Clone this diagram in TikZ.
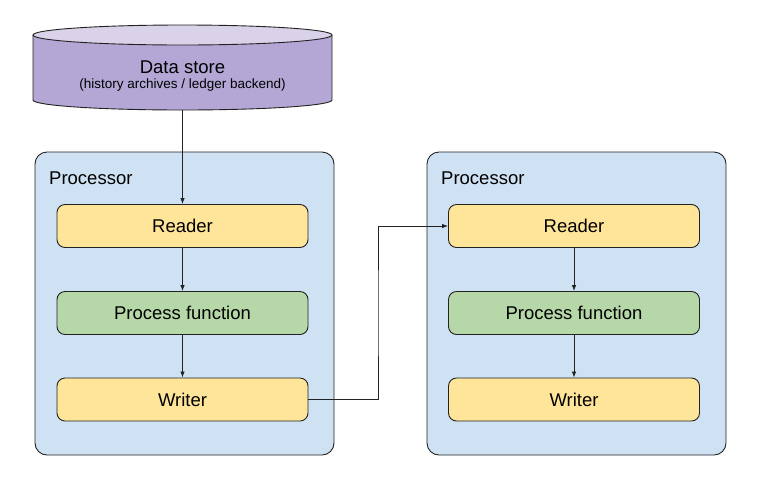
\documentclass[tikz,border=0pt]{standalone}
\usepackage{fontspec}
\setmainfont{Liberation Sans}
\usetikzlibrary{arrows.meta}
\definecolor{storetop}{HTML}{D9D2E9}
\definecolor{storebody}{HTML}{B4A7D6}
\definecolor{procfill}{HTML}{CFE2F3}
\definecolor{ioFill}{HTML}{FFE599}
\definecolor{funcfill}{HTML}{B6D7A8}
\definecolor{edge}{HTML}{222222}
\begin{document}
\begin{tikzpicture}[x=1pt,y=-1pt,
  procbox/.style={draw=edge,line width=0.9pt,fill=procfill,rounded corners=12pt},
  stagebox/.style={draw=edge,line width=0.9pt,rounded corners=8pt,minimum width=251pt,minimum height=43pt,inner sep=0pt,font=\fontsize{18.5}{22}\selectfont},
  link/.style={draw=edge,line width=0.8pt,-{Latex[length=6pt,width=4.5pt]}}]
\useasboundingbox (0,0) rectangle (759,480);
\fill[storebody] (33,35) -- (33,100) arc[start angle=180,end angle=0,x radius=149.5,y radius=10] -- (332,35) -- cycle;
\draw[edge,line width=0.9pt] (33,35) -- (33,100) arc[start angle=180,end angle=0,x radius=149.5,y radius=10] -- (332,35);
\draw[edge,line width=0.9pt,fill=storetop] (182.5,35) ellipse[x radius=149.5,y radius=10];
\coordinate (storeout) at (182.5,110);
\node (store) at (182.5,67) {\fontsize{18.5}{22}\selectfont Data store};
\node (storenote) at (182.5,85) {\fontsize{13.5}{16}\selectfont (history archives / ledger backend)};
\draw[procbox] (35,152) rectangle (334,455);
\draw[procbox] (427,152) rectangle (726,455);
\node[anchor=west,inner sep=0pt,font=\fontsize{18.5}{22}\selectfont] (proc1) at (49,178) {Processor};
\node[anchor=west,inner sep=0pt,font=\fontsize{18.5}{22}\selectfont] (proc2) at (441,178) {Processor};
\node[stagebox,fill=ioFill] (read1) at (182.5,226) {Reader};
\node[stagebox,fill=funcfill] (func1) at (182.5,313) {Process function};
\node[stagebox,fill=ioFill] (write1) at (182.5,399.5) {Writer};
\node[stagebox,fill=ioFill] (read2) at (574,226) {Reader};
\node[stagebox,fill=funcfill] (func2) at (574,313) {Process function};
\node[stagebox,fill=ioFill] (write2) at (574,399.5) {Writer};
\draw[link] (storeout) -- (read1);
\draw[link] (read1) -- (func1);
\draw[link] (func1) -- (write1);
\draw[link] (read2) -- (func2);
\draw[link] (func2) -- (write2);
\coordinate (hop) at (378,313);
\draw[link] (write1.east) -| (hop) |- (read2.west);
\end{tikzpicture}
\end{document}
